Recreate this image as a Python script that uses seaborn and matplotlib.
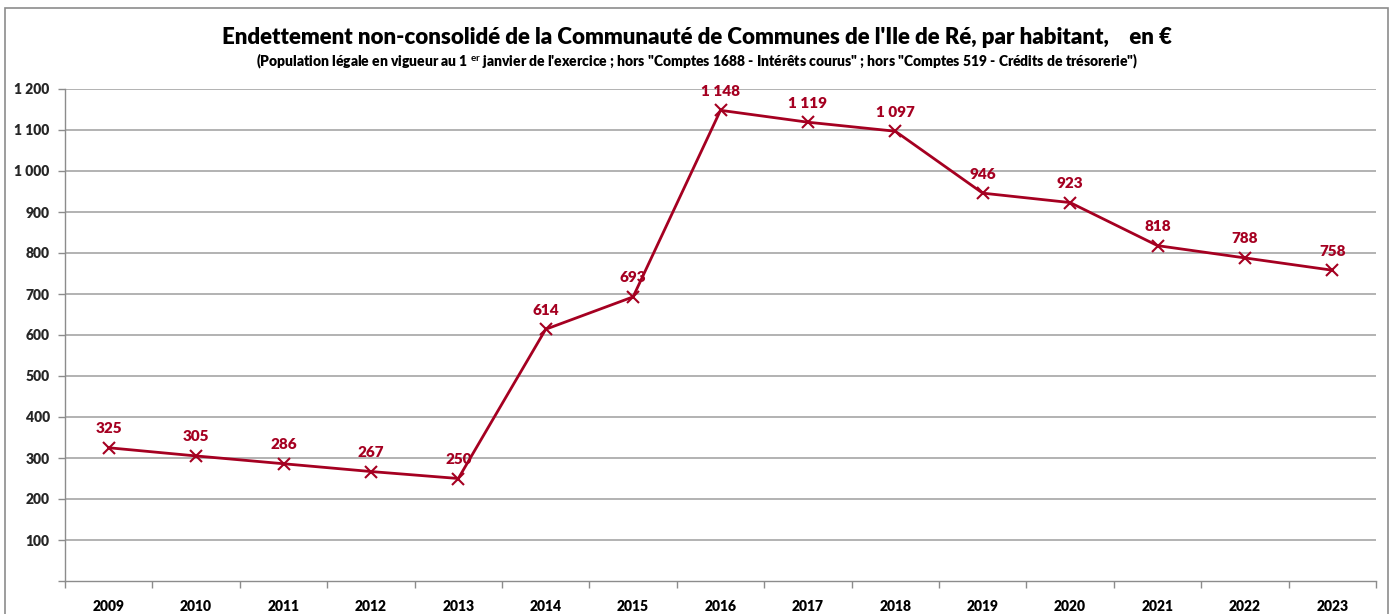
import matplotlib
matplotlib.use("Agg")
import matplotlib.pyplot as plt
import seaborn as sns
import pandas as pd
from matplotlib.ticker import FixedLocator, FuncFormatter
from matplotlib.patches import Rectangle

years = ["2009", "2010", "2011", "2012", "2013", "2014", "2015", "2016",
         "2017", "2018", "2019", "2020", "2021", "2022", "2023"]
values = [325, 305, 286, 267, 250, 614, 693, 1148, 1119, 1097, 946, 923, 818, 788, 758]
yticks = [0, 100, 200, 300, 400, 500, 600, 700, 800, 900, 1000, 1100, 1200]

title = "Endettement non-consolidé de la Communauté de Communes de l'Ile de Ré, par habitant,    en €"
subtitle = ("(Population légale en vigueur au 1 $^{\\mathrm{er}}$ janvier de l'exercice ; hors \"Comptes 1688 - "
            "Intérêts courus\" ; hors \"Comptes 519 - Crédits de trésorerie\")")

sns.set_theme(style="white")
plt.rcParams['font.family'] = ['Lato', 'DejaVu Sans']
plt.rcParams['mathtext.fontset'] = 'custom'
plt.rcParams['mathtext.rm'] = 'Lato:bold'
plt.rcParams['mathtext.it'] = 'Lato:bold'
plt.rcParams['mathtext.bf'] = 'Lato:bold'

RED = "#A50021"
GRID = "#A6A6A6"

df = pd.DataFrame({"pos": list(range(len(years))), "val": values, "year": years})

fig = plt.figure(figsize=(13.94, 6.14), dpi=100)
ax = fig.add_axes([65 / 1394, 1 - 581 / 614, (1376 - 65) / 1394, (581 - 89) / 614])

sns.lineplot(data=df, x="pos", y="val", ax=ax, color=RED, linewidth=2,
             marker="x", markersize=8, markeredgewidth=1.5, markeredgecolor=RED)

def fmt(v):
    s = f"{int(v):,}".replace(",", " ")
    return s

for p, v in zip(df["pos"], df["val"]):
    ax.annotate(fmt(v), (p, v), xytext=(0, 9), textcoords="offset points",
                ha="center", va="bottom", color=RED, fontsize=11, fontweight="heavy")

ax.set_xlim(-0.5, len(years) - 0.5)
ax.set_ylim(0, 1200)
ax.yaxis.set_major_locator(FixedLocator(yticks))
ax.yaxis.set_major_formatter(FuncFormatter(lambda v, _: "" if v == 0 else fmt(v)))
ax.xaxis.set_major_locator(FixedLocator([i - 0.5 for i in range(len(years) + 1)]))
ax.xaxis.set_major_formatter(FuncFormatter(lambda v, _: ""))
ax.set_xticks(list(range(len(years))), years, minor=True)
ax.tick_params(axis="x", which="major", length=5, width=1, color="#8C8C8C", direction="out", bottom=True)
ax.tick_params(axis="x", which="minor", length=0, pad=14, labelsize=10, labelcolor="black")
ax.tick_params(axis="y", length=5, width=1, color="#8C8C8C", direction="out", left=True,
               labelsize=10, pad=6)
for lab in ax.get_xticklabels(minor=True) + ax.get_yticklabels():
    lab.set_fontweight("heavy")

ax.grid(False)
for t in yticks[1:]:
    ax.axhline(t, color=GRID, linewidth=1.2, zorder=0)

for s in ["top", "right"]:
    ax.spines[s].set_visible(False)
for s in ["left", "bottom"]:
    ax.spines[s].set_color("#8C8C8C")
    ax.spines[s].set_linewidth(1)
ax.set_xlabel("")
ax.set_ylabel("")

fig.text(0.5, 1 - 37 / 614, title, ha="center", va="center", fontsize=16, fontweight="heavy",
         color="black")
fig.text(0.5, 1 - 61 / 614, subtitle, ha="center", va="center", fontsize=10, fontweight="heavy",
         color="black")

fig.patches.append(Rectangle((5 / 1394, -0.02), (1388 - 5) / 1394, 1 - 8 / 614 + 0.02,
                             transform=fig.transFigure, fill=False, edgecolor="#8C8C8C",
                             linewidth=1.2))

fig.savefig("out.png", dpi=100)
